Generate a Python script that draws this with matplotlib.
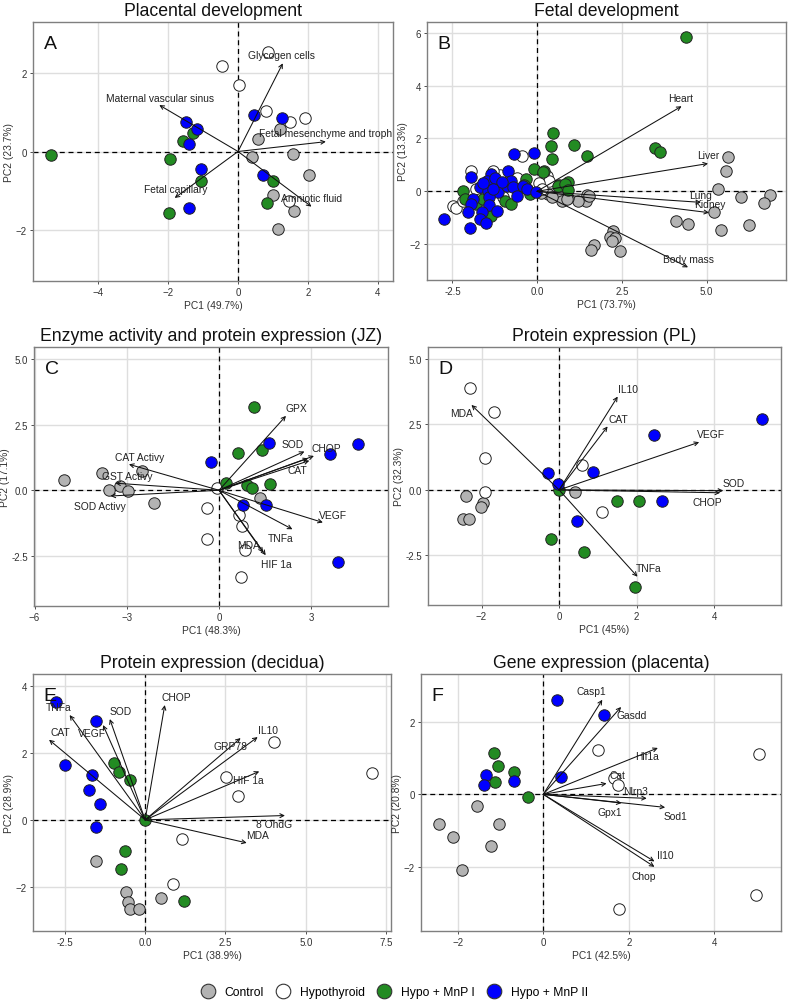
import matplotlib
matplotlib.use("Agg")
import matplotlib.pyplot as plt
from matplotlib.lines import Line2D

plt.rcParams['font.family'] = ['Liberation Sans', 'DejaVu Sans']

# ---------------- DATA ----------------
groups = ["Control", "Hypothyroid", "Hypo + MnP I", "Hypo + MnP II"]
group_colors = ["#b3b3b3", "#ffffff", "#228b22", "#0000ff"]

# Panel A: Placental development
A_title = "Placental development"
A_xlabel = "PC1 (49.7%)"
A_ylabel = "PC2 (23.7%)"
A_control = [(1.2, 0.57), (0.58, 0.33), (0.41, -0.13), (1.56, -0.07), (2.04, -0.60),
             (1.01, -1.10), (1.61, -1.50), (1.13, -1.97)]
A_hypo = [(-0.47, 2.16), (0.02, 1.69), (0.87, 2.54), (0.80, 1.03), (1.50, 0.75),
          (1.92, 0.84), (1.47, -1.25)]
A_mnp1 = [(-5.35, -0.09), (-1.94, -0.19), (-1.28, 0.47), (-1.58, 0.27), (-1.05, -0.74),
          (-1.96, -1.57), (1.01, -0.74), (0.82, -1.30)]
A_mnp2 = [(-1.50, 0.75), (-1.18, 0.57), (-1.39, 0.19), (-1.06, -0.45), (-1.39, -1.44),
          (0.45, 0.94), (1.26, 0.85), (0.72, -0.59)]
A_vars = ["Glycogen cells", "Maternal vascular sinus", "Fetal mesenchyme and troph",
          "Fetal capillary", "Amniotic fluid"]
A_load = [(1.28, 2.24), (-2.25, 1.18), (2.51, 0.25), (-1.81, -1.18), (2.10, -1.40)]
A_lab = [(1.25, 2.45), (-2.23, 1.37), (2.50, 0.46), (-1.78, -0.96), (2.09, -1.19)]

# Panel B: Fetal development
B_title = "Fetal development"
B_xlabel = "PC1 (73.7%)"
B_ylabel = "PC2 (13.3%)"
B_control = [(5.63, 1.31), (5.57, 0.76), (5.34, 0.09), (6.0, -0.20), (6.86, -0.16),
             (6.70, -0.44), (5.22, -0.79), (4.09, -1.11), (4.45, -1.24), (5.42, -1.46),
             (6.25, -1.26), (2.24, -1.51), (2.14, -1.74), (2.29, -1.78), (2.21, -1.90),
             (1.67, -2.02), (1.60, -2.21), (2.45, -2.27), (1.43, -0.38), (1.46, -0.16),
             (1.21, -0.35), (0.91, -0.26), (0.62, -0.16), (0.32, -0.10), (0.72, -0.35),
             (0.87, -0.29), (1.53, -0.17), (0.10, -0.05), (0.45, -0.20)]
B_hypo = [(-1.96, 0.76), (-2.48, -0.55), (-2.38, -0.65), (-0.46, 1.35), (0.28, 0.59),
          (0.34, 0.40), (-1.80, 0.10), (-1.70, -0.30), (-1.10, 0.60), (-0.90, 0.30),
          (-0.60, 0.50), (0.05, 0.30), (-2.20, -0.35), (-1.30, 0.75), (-0.30, 0.10),
          (-1.00, -0.20), (0.15, 0.10)]
B_mnp1 = [(4.40, 5.83), (1.08, 1.77), (1.46, 1.35), (3.47, 1.64), (3.62, 1.48),
          (0.91, 0.34), (0.64, 0.25), (0.20, 0.76), (-0.09, 0.84), (0.47, 2.20),
          (0.42, 1.73), (0.45, 1.22), (0.18, 0.74), (-0.33, 0.47), (-0.22, -0.10),
          (-2.18, 0.02), (-2.13, -0.29), (-1.79, -0.48), (-0.95, -0.36), (-0.76, -0.48),
          (-1.35, -0.92), (0.62, 0.21), (0.82, 0.28), (0.91, 0.03), (-1.60, -0.30),
          (-0.40, 0.25)]
B_mnp2 = [(-2.75, -1.06), (-1.96, 0.53), (-1.99, -1.40), (-0.68, 1.41), (-0.09, 1.45),
          (-0.86, 0.78), (-1.35, 0.66), (-1.49, 0.40), (-1.15, 0.28), (-1.69, 0.15),
          (-1.45, 0.02), (-1.15, -0.04), (-0.90, 0.21), (-0.76, 0.40), (-0.71, 0.15),
          (-0.41, 0.21), (-0.29, 0.09), (-0.59, -0.17), (-0.02, -0.01), (-1.89, -0.29),
          (-1.94, -0.48), (-1.42, -0.20), (-1.42, -0.52), (-1.64, -0.80), (-2.04, -0.80),
          (-1.18, -0.73), (-1.69, -1.05), (-1.51, -1.21), (-1.25, 0.50), (-1.05, 0.35),
          (-1.60, 0.30), (-1.30, 0.10)]
B_vars = ["Heart", "Liver", "Lung", "Kidney", "Body mass"]
B_load = [(4.26, 3.22), (5.04, 1.05), (4.83, -0.42), (5.07, -0.81), (4.45, -2.88)]
B_lab = [(4.24, 3.52), (5.04, 1.36), (4.83, -0.13), (5.09, -0.50), (4.45, -2.55)]

# Panel C: Enzyme activity and protein expression (JZ)
C_title = "Enzyme activity and protein expression (JZ)"
C_xlabel = "PC1 (48.3%)"
C_ylabel = "PC2 (17.1%)"
C_control = [(-5.04, 0.39), (-3.82, 0.64), (-3.59, 0.01), (-3.22, 0.17), (-2.97, -0.03),
             (-2.52, 0.74), (-2.11, -0.50), (1.34, -0.31)]
C_hypo = [(-0.05, 0.10), (-0.38, -0.69), (-0.38, -1.87), (0.66, -0.95), (0.74, -1.36),
          (0.85, -2.28), (0.73, -3.33)]
C_mnp1 = [(1.15, 3.19), (0.63, 1.41), (1.39, 1.54), (0.22, 0.27), (0.90, 0.20),
          (1.09, 0.10), (1.66, 0.23)]
C_mnp2 = [(-0.26, 1.06), (1.64, 1.79), (3.62, 1.40), (4.52, 1.76), (0.77, -0.57),
          (1.52, -0.56), (3.87, -2.74)]
C_vars = ["GPX", "SOD", "CHOP", "CAT", "", "VEGF", "TNFa", "MDA", "HIF 1a",
          "CAT Activy", "GST Activy", "SOD Activy"]
C_load = [(2.18, 2.84), (2.78, 1.48), (3.09, 1.31), (2.94, 1.13), (2.90, 1.22),
          (3.38, -1.23), (2.39, -1.49), (1.44, -2.38), (1.52, -2.48),
          (-2.93, 0.99), (-3.37, 0.27), (-3.53, -0.22)]
C_lab = [(2.51, 3.13), (2.40, 1.76), (3.49, 1.60), (2.55, 0.78), (0, 0),
         (3.72, -0.95), (2.00, -1.81), (0.96, -2.10), (1.88, -2.80),
         (-2.57, 1.27), (-3.00, 0.55), (-3.88, -0.62)]

# Panel D: Protein expression (PL)
D_title = "Protein expression (PL)"
D_xlabel = "PC1 (45%)"
D_ylabel = "PC2 (32.3%)"
D_control = [(-2.40, -0.24), (-1.96, -0.50), (-2.02, -0.66), (-2.48, -1.11), (-2.33, -1.11),
             (0.40, -0.09)]
D_hypo = [(-2.30, 3.88), (-1.68, 2.96), (-1.92, 1.21), (-1.90, -0.09), (0.58, 0.95),
          (1.11, -0.85)]
D_mnp1 = [(0.0, 0.0), (1.50, -0.43), (2.06, -0.43), (-0.20, -1.87), (0.63, -2.35),
          (1.95, -3.69)]
D_mnp2 = [(-0.28, 0.65), (-0.04, 0.23), (0.88, 0.67), (2.45, 2.10), (5.22, 2.71),
          (2.64, -0.41), (0.46, -1.17)]
D_vars = ["IL10", "CAT", "MDA", "VEGF", "SOD", "CHOP", "TNFa"]
D_load = [(1.51, 3.56), (1.25, 2.42), (-2.26, 3.24), (3.61, 1.82), (4.23, -0.03),
          (4.15, -0.11), (2.02, -3.31)]
D_lab = [(1.78, 3.85), (1.52, 2.71), (-2.52, 2.93), (3.91, 2.14), (4.49, 0.27),
         (3.83, -0.47), (2.30, -2.99)]

# Panel E: Protein expression (decidua)
E_title = "Protein expression (decidua)"
E_xlabel = "PC1 (38.9%)"
E_ylabel = "PC2 (28.9%)"
E_control = [(-1.52, -1.22), (-0.61, -2.17), (-0.53, -2.45), (-0.48, -2.66), (-0.19, -2.68),
             (0.49, -2.34)]
E_hypo = [(4.01, 2.32), (7.05, 1.40), (2.51, 1.28), (2.88, 0.70), (1.16, -0.57),
          (0.87, -1.92)]
E_mnp1 = [(-0.97, 1.70), (-0.82, 1.43), (-0.48, 1.20), (0.0, 0.0), (-0.63, -0.92),
          (-0.74, -1.48), (1.20, -2.43)]
E_mnp2 = [(-2.76, 3.54), (-1.52, 2.97), (-2.50, 1.65), (-1.64, 1.35), (-1.74, 0.88),
          (-1.39, 0.48), (-1.52, -0.20)]
E_vars = ["TNFa", "CAT", "VEGF", "SOD", "CHOP", "GRP78", "IL10", "HIF 1a", "8 OhdG", "MDA"]
E_load = [(-2.35, 3.14), (-2.99, 2.40), (-1.31, 2.84), (-1.10, 3.02), (0.61, 3.44),
          (2.97, 2.45), (3.50, 2.48), (3.55, 1.45), (4.35, 0.13), (3.16, -0.69)]
E_lab = [(-2.68, 3.39), (-2.63, 2.62), (-1.64, 2.59), (-0.76, 3.25), (0.98, 3.69),
         (2.64, 2.20), (3.83, 2.69), (3.21, 1.20), (4.01, -0.12), (3.49, -0.45)]

# Panel F: Gene expression (placenta)
F_title = "Gene expression (placenta)"
F_xlabel = "PC1 (42.5%)"
F_ylabel = "PC2 (20.8%)"
F_control = [(-1.55, -0.33), (-1.04, -0.83), (-2.44, -0.83), (-2.12, -1.17), (-1.23, -1.43),
             (-1.89, -2.09)]
F_hypo = [(1.29, 1.21), (1.65, 0.45), (1.74, 0.26), (5.04, 1.10), (4.97, -2.78),
          (1.77, -3.15)]
F_mnp1 = [(-1.15, 1.14), (-1.05, 0.77), (-0.69, 0.61), (-1.12, 0.33), (-0.35, -0.08)]
F_mnp2 = [(0.31, 2.61), (1.41, 2.18), (0.41, 0.49), (-1.33, 0.54), (-1.39, 0.26),
          (-0.69, 0.36)]
F_vars = ["Casp1", "Gasdd", "Hif1a", "Cat", "Nlrp3", "Gpx1", "Sod1", "Il10", "Chop"]
F_load = [(1.38, 2.61), (1.82, 2.41), (2.68, 1.28), (1.48, 0.30), (2.42, -0.11),
          (1.83, -0.24), (2.85, -0.36), (2.60, -1.85), (2.60, -2.00)]
F_lab = [(1.13, 2.84), (2.07, 2.19), (2.42, 1.05), (1.74, 0.52), (2.15, 0.10),
         (1.56, -0.48), (3.10, -0.59), (2.86, -1.67), (2.34, -2.25)]

# ---------------- LAYOUT ----------------
W, H = 789, 1003
fig = plt.figure(figsize=(W / 100, H / 100), dpi=100)


def px_axes(x0, y0, x1, y1):
    return fig.add_axes([x0 / W, 1 - y1 / H, (x1 - x0) / W, (y1 - y0) / H])


panels = [
    dict(letter="A", box=(33, 23, 393, 282), xlim=(-5.86, 4.43), ylim=(-3.29, 3.29),
         xt=[-4, -2, 0, 2, 4], xtl=None, yt=[-2, 0, 2], ytl=None,
         title=A_title, xl=A_xlabel, yl=A_ylabel,
         pts=[A_control, A_hypo, A_mnp1, A_mnp2], vars=A_vars, load=A_load, lab=A_lab),
    dict(letter="B", box=(427, 23, 786, 281), xlim=(-3.25, 7.34), ylim=(-3.36, 6.41),
         xt=[-2.5, 0, 2.5, 5], xtl=["-2.5", "0.0", "2.5", "5.0"], yt=[-2, 0, 2, 4, 6], ytl=None,
         title=B_title, xl=B_xlabel, yl=B_ylabel,
         pts=[B_control, B_hypo, B_mnp1, B_mnp2], vars=B_vars, load=B_load, lab=B_lab),
    dict(letter="C", box=(34, 348, 388, 607), xlim=(-6.02, 5.5), ylim=(-4.42, 5.47),
         xt=[-6, -3, 0, 3], xtl=None, yt=[-2.5, 0, 2.5, 5], ytl=["-2.5", "0.0", "2.5", "5.0"],
         title=C_title, xl=C_xlabel, yl=C_ylabel,
         pts=[C_control, C_hypo, C_mnp1, C_mnp2], vars=C_vars, load=C_load, lab=C_lab),
    dict(letter="D", box=(428, 348, 781, 606), xlim=(-3.38, 5.72), ylim=(-4.39, 5.45),
         xt=[-2, 0, 2, 4], xtl=None, yt=[-2.5, 0, 2.5, 5], ytl=["-2.5", "0.0", "2.5", "5.0"],
         title=D_title, xl=D_xlabel, yl=D_ylabel,
         pts=[D_control, D_hypo, D_mnp1, D_mnp2], vars=D_vars, load=D_load, lab=D_lab),
    dict(letter="E", box=(33, 675, 391, 932), xlim=(-3.49, 7.65), ylim=(-3.33, 4.37),
         xt=[-2.5, 0, 2.5, 5, 7.5], xtl=["-2.5", "0.0", "2.5", "5.0", "7.5"], yt=[-2, 0, 2, 4], ytl=None,
         title=E_title, xl=E_xlabel, yl=E_ylabel,
         pts=[E_control, E_hypo, E_mnp1, E_mnp2], vars=E_vars, load=E_load, lab=E_lab),
    dict(letter="F", box=(421, 675, 781, 932), xlim=(-2.86, 5.56), ylim=(-3.77, 3.32),
         xt=[-2, 0, 2, 4], xtl=None, yt=[-2, 0, 2], ytl=None,
         title=F_title, xl=F_xlabel, yl=F_ylabel,
         pts=[F_control, F_hypo, F_mnp1, F_mnp2], vars=F_vars, load=F_load, lab=F_lab),
]

for p in panels:
    ax = px_axes(*p["box"])
    ax.set_xlim(*p["xlim"])
    ax.set_ylim(*p["ylim"])
    ax.set_xticks(p["xt"])
    if p["xtl"]:
        ax.set_xticklabels(p["xtl"])
    ax.set_yticks(p["yt"])
    if p["ytl"]:
        ax.set_yticklabels(p["ytl"])
    ax.grid(True, color="#dedede", lw=1.0, zorder=0)
    ax.set_axisbelow(True)
    for s in ax.spines.values():
        s.set_color("#7f7f7f")
        s.set_linewidth(1.0)
    ax.tick_params(labelsize=7, colors="#333333", length=2.5, width=0.6, pad=2)
    ax.set_xlabel(p["xl"], fontsize=7.4, color="#333333", labelpad=2)
    ax.set_ylabel(p["yl"], fontsize=7.4, color="#333333", labelpad=1)
    ax.set_title(p["title"], fontsize=12.7, pad=5, color="#111111")
    ax.axhline(0, color="black", lw=0.9, ls=(0, (4, 3)), zorder=1.5)
    ax.axvline(0, color="black", lw=0.9, ls=(0, (4, 3)), zorder=1.5)
    for pts, c in zip(p["pts"], group_colors):
        xs = [q[0] for q in pts]
        ys = [q[1] for q in pts]
        ax.scatter(xs, ys, s=68, c=c, edgecolors="#222222", linewidths=0.7, zorder=2)
    for name, (lx, ly), (tx, ty) in zip(p["vars"], p["load"], p["lab"]):
        ax.annotate("", xy=(lx, ly), xytext=(0, 0),
                    arrowprops=dict(arrowstyle="->", lw=0.75, color="#111111",
                                    shrinkA=0, shrinkB=0, mutation_scale=7),
                    zorder=3)
        if name:
            ax.text(tx, ty, name, fontsize=7.4, ha="center", va="center",
                    color="#222222", zorder=4)
    ax.text(0.03, 0.95, p["letter"], transform=ax.transAxes, fontsize=14,
            ha="left", va="top", color="#111111", zorder=5)

handles = [Line2D([0], [0], marker="o", ls="none", markersize=10.5,
                  markerfacecolor=c, markeredgecolor="#333333", markeredgewidth=0.8)
           for c in group_colors]
fig.legend(handles, groups, loc="center", bbox_to_anchor=(0.5, 1 - 993 / H), ncol=4,
           frameon=False, fontsize=8.7, handletextpad=0.8, columnspacing=1.0,
           handlelength=1.2)

fig.savefig("out.png", dpi=100)
